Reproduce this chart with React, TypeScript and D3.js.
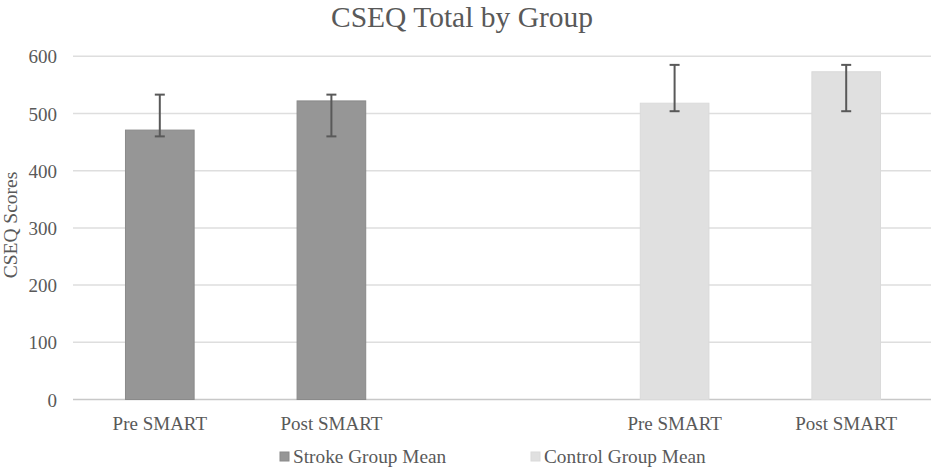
import * as d3 from 'd3';
import React from 'react';

// categories along the x axis (the middle one is an empty gap)
const categories = ['Pre SMART', 'Post SMART', '', 'Pre SMART ', 'Post SMART '];
const series = ['Stroke Group Mean', 'Control Group Mean'];
const seriesOf = [0, 0, -1, 1, 1];
const means = [471, 522, NaN, 518, 573];
const errLow = [460, 460, NaN, 504, 504];
const errHigh = [533, 533, NaN, 585, 585];
const yTicks = [0, 100, 200, 300, 400, 500, 600];

const W = 935;
const H = 469;
const FONT = 'Liberation Serif';
const colors = ['#969696', '#e0e0e0'];
const strokes = ['#8a8a8a', '#dadada'];

const App = () => {
	const x = d3.scaleBand().domain(categories).range([74, 932]).padding(0);
	const y = d3.scaleLinear().domain([0, 600]).range([399.5, 56.3]);
	const bw = x.bandwidth() * 0.4;

	return (
		<svg width={W} height={H} style={{ position: 'absolute', left: 0, top: 0, background: '#fff' }}>
			<text x={462} y={26.5} textAnchor="middle" fontSize={29.5} fontFamily={FONT} fill="#595959">
				CSEQ Total by Group
			</text>
			{yTicks.map((t) => (
				<g key={t}>
					<line x1={73} x2={931} y1={y(t)} y2={y(t)} stroke={t === 0 ? '#c8c8c8' : '#dedede'} strokeWidth={1.5} />
					<text x={57} y={y(t) + 7} textAnchor="end" fontSize={19} fontFamily={FONT} fill="#595959">
						{t}
					</text>
				</g>
			))}
			<text
				transform={`translate(17, 225) rotate(-90)`}
				textAnchor="middle"
				fontSize={19.5}
				fontFamily={FONT}
				fill="#595959"
			>
				CSEQ Scores
			</text>
			{categories.map((c, i) => {
				if (seriesOf[i] < 0) return null;
				const cx = (x(c) ?? 0) + x.bandwidth() / 2;
				const s = seriesOf[i];
				return (
					<g key={i}>
						<rect
							x={cx - bw / 2}
							y={y(means[i])}
							width={bw}
							height={y(0) - y(means[i])}
							fill={colors[s]}
							stroke={strokes[s]}
							strokeWidth={1}
						/>
						<line x1={cx} x2={cx} y1={y(errHigh[i])} y2={y(errLow[i])} stroke="#595959" strokeWidth={2} />
						<line x1={cx - 5} x2={cx + 5} y1={y(errHigh[i])} y2={y(errHigh[i])} stroke="#595959" strokeWidth={2} />
						<line x1={cx - 5} x2={cx + 5} y1={y(errLow[i])} y2={y(errLow[i])} stroke="#595959" strokeWidth={2} />
						<text x={cx} y={430} textAnchor="middle" fontSize={19} fontFamily={FONT} fill="#595959">
							{c.trim()}
						</text>
					</g>
				);
			})}
			{series.map((s, i) => {
				const lx = i === 0 ? 280 : 531;
				return (
					<g key={s}>
						<rect x={lx} y={452} width={9} height={9} fill={colors[i]} stroke={strokes[i]} />
						<text x={lx + 13} y={463} fontSize={19.3} fontFamily={FONT} fill="#595959">
							{s}
						</text>
					</g>
				);
			})}
		</svg>
	);
};

export default App;
